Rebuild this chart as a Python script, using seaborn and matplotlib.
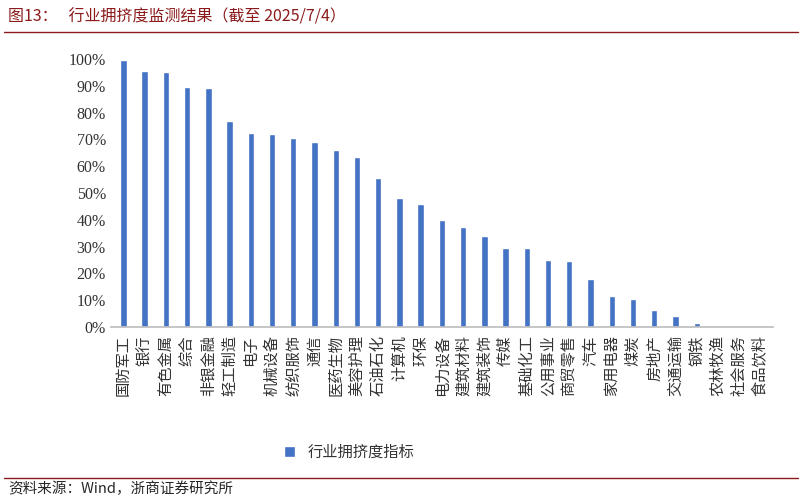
import matplotlib
matplotlib.use("Agg")
import matplotlib.pyplot as plt
import seaborn as sns
import pandas as pd
from matplotlib.ticker import PercentFormatter

categories = ["国防军工","银行","有色金属","综合","非银金融","轻工制造","电子","机械设备","纺织服饰","通信",
              "医药生物","美容护理","石油石化","计算机","环保","电力设备","建筑材料","建筑装饰","传媒","基础化工",
              "公用事业","商贸零售","汽车","家用电器","煤炭","房地产","交通运输","钢铁","农林牧渔","社会服务","食品饮料"]
values = [99.5,95.5,95.0,89.5,89.0,77.0,72.5,72.0,70.5,69.0,
          66.0,63.5,55.5,48.0,46.0,40.0,37.5,34.0,29.5,29.5,
          25.0,24.5,18.0,11.5,10.5,6.5,4.0,1.5,0.5,0.2,0.1]
series_name = "行业拥挤度指标"

sns.set_theme(style="white")
plt.rcParams['font.family'] = ['Liberation Serif', 'Noto Sans CJK SC', 'DejaVu Sans']

df = pd.DataFrame({"cat": categories, "val": values})
fig = plt.figure(figsize=(8.02, 5.0), dpi=100)
ax = fig.add_axes([0.138, 0.346, 0.826, 0.536])
sns.barplot(data=df, x="cat", y="val", color="#4472C4", width=0.3, ax=ax, label=series_name, saturation=1)
ax.set_ylim(0, 100)
ax.set_yticks(range(0, 101, 10))
ax.yaxis.set_major_formatter(PercentFormatter(decimals=0))
ax.tick_params(axis='y', labelsize=11.5, colors='#333333', length=0)
ax.set_xticks(range(len(categories)))
ax.set_xticklabels(categories, fontsize=11, rotation=90, ha='center', va='top',
                   family=['Noto Sans CJK SC'], color='#333333')
ax.tick_params(axis='x', length=0, pad=6)
ax.set_xlabel(""); ax.set_ylabel("")
for s in ["top", "right", "left"]:
    ax.spines[s].set_visible(False)
ax.spines["bottom"].set_color("#bfbfbf")
ax.set_xlim(-0.6, len(categories) - 0.4)
ax.legend(loc='upper center', bbox_to_anchor=(0.36, -0.385), frameon=False,
          prop={'family': 'Noto Sans CJK SC', 'size': 11}, handlelength=0.7, handleheight=0.7,
          labelcolor='#333333')

fig.text(0.01, 0.965, "图13：   行业拥挤度监测结果（截至 2025/7/4）", fontsize=11.5, color='#8B1A1A',
         family=['Noto Sans CJK SC'], va='center')
fig.add_artist(plt.Line2D([0.005, 0.995], [0.937, 0.937], color='#8B1A1A', lw=1))
fig.add_artist(plt.Line2D([0.005, 0.995], [0.045, 0.045], color='#8B1A1A', lw=1))
fig.text(0.01, 0.022, "资料来源：Wind，浙商证券研究所", fontsize=10.5, family=['Noto Sans CJK SC'], va='center')
fig.savefig("out.png", dpi=100)
